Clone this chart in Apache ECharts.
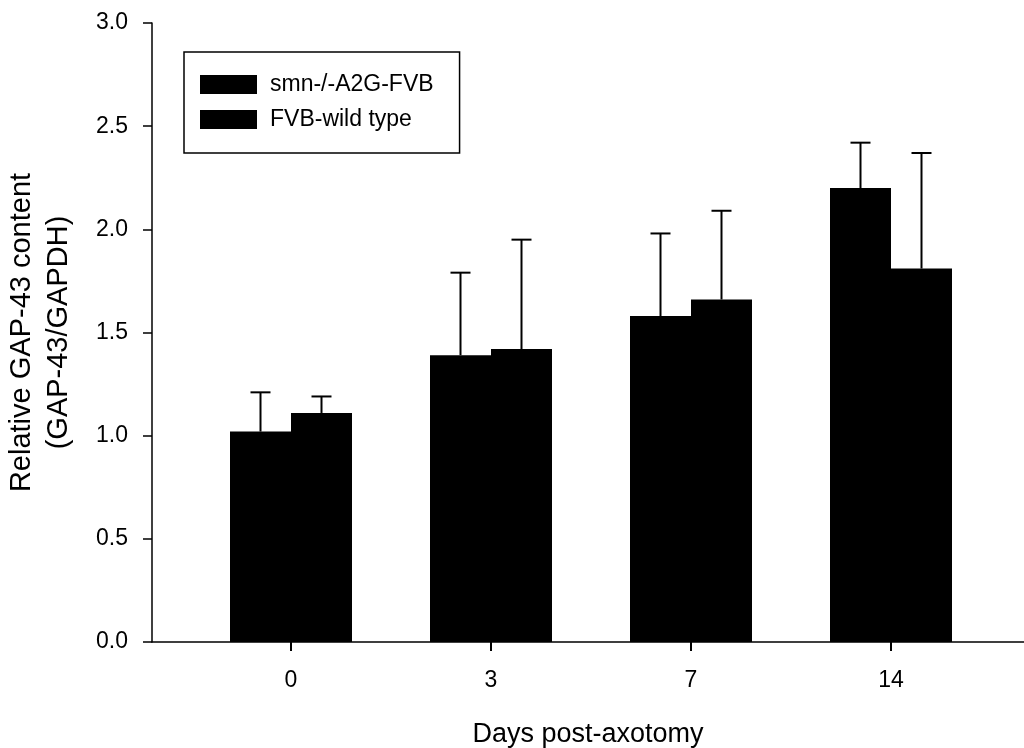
<!DOCTYPE html>
<html>
<head>
<meta charset="utf-8">
<title>Relative GAP-43 content</title>
<script src="https://cdn.jsdelivr.net/npm/echarts@6/dist/echarts.min.js"></script>
<style>
  html, body { margin: 0; padding: 0; background: #ffffff; }
  #chart { width: 1024px; height: 748px; }
</style>
</head>
<body>
<div id="chart"></div>
<script>
// Days after axotomy (category labels)
const days = ['0', '3', '7', '14'];
const seriesNames = ['smn-/-A2G-FVB', 'FVB-wild type'];

// Mean relative GAP-43 content (GAP-43/GAPDH)
const smnMean = [1.02, 1.39, 1.58, 2.20];
const wtMean = [1.11, 1.42, 1.66, 1.81];

// Top of the error bar (mean + error)
const smnUpper = [1.21, 1.79, 1.98, 2.42];
const wtUpper = [1.19, 1.95, 2.09, 2.37];

// Y axis ticks
const yTicks = [0, 0.5, 1.0, 1.5, 2.0, 2.5, 3.0];

const FONT = '"Liberation Sans", Arial, sans-serif';
const BAR_W = 61;
const CAP_W = 20;

const chart = echarts.init(document.getElementById('chart'), null, { renderer: 'canvas' });

function barData(values) {
  return values.map((v, i) => [i, v]);
}
function errData(means, uppers) {
  return means.map((m, i) => [i, m, uppers[i]]);
}

// Draws the upper half of an error bar above one bar of the group.
function errorRenderer(shift) {
  return function (params, api) {
    const idx = api.value(0);
    const top = api.coord([idx, api.value(2)]);
    const base = api.coord([idx, api.value(1)]);
    const x = top[0] + shift;
    const style = { stroke: '#000', lineWidth: 2, fill: null };
    return {
      type: 'group',
      children: [
        { type: 'line', shape: { x1: x, y1: base[1], x2: x, y2: top[1] }, style },
        { type: 'line', shape: { x1: x - CAP_W / 2, y1: top[1], x2: x + CAP_W / 2, y2: top[1] }, style }
      ]
    };
  };
}

const option = {
  animation: false,
  backgroundColor: '#ffffff',
  textStyle: { fontFamily: FONT, color: '#000' },
  grid: { left: 152, right: 0, top: 23, bottom: 106, containLabel: false, outerBoundsMode: 'none' },
  legend: {
    orient: 'vertical',
    left: 184,
    top: 52,
    itemWidth: 57,
    itemHeight: 19,
    itemGap: 12,
    padding: [21, 26, 22, 16],
    borderColor: '#000',
    borderWidth: 1.5,
    backgroundColor: '#fff',
    icon: 'rect',
    data: seriesNames,
    textStyle: { fontFamily: FONT, fontSize: 23, color: '#000', padding: [0, 0, 0, 8] }
  },
  xAxis: {
    type: 'value',
    min: -0.695,
    max: 3.665,
    name: 'Days post-axotomy',
    nameLocation: 'middle',
    nameGap: 79,
    nameTextStyle: { fontFamily: FONT, fontSize: 27, color: '#000' },
    splitLine: { show: false },
    axisLine: { show: true, onZero: false, lineStyle: { color: '#000', width: 1.5 } },
    axisTick: {
      show: true, length: 9, inside: false,
      customValues: days.map((d, i) => i),
      lineStyle: { color: '#000', width: 2 }
    },
    axisLabel: {
      show: true,
      customValues: days.map((d, i) => i),
      formatter: v => days[Math.round(v)],
      margin: 27,
      fontFamily: FONT, fontSize: 23, color: '#000'
    }
  },
  yAxis: {
    type: 'value',
    min: 0,
    max: 3,
    interval: 0.5,
    name: 'Relative GAP-43 content\n(GAP-43/GAPDH)',
    nameLocation: 'middle',
    nameRotate: 90,
    nameGap: 75,
    nameTextStyle: { fontFamily: FONT, fontSize: 29, color: '#000', lineHeight: 37, align: 'center' },
    splitLine: { show: false },
    axisLine: { show: true, onZero: false, lineStyle: { color: '#000', width: 1.5 } },
    axisTick: { show: true, length: 9, lineStyle: { color: '#000', width: 1.5 } },
    axisLabel: {
      margin: 24,
      fontFamily: FONT, fontSize: 23, color: '#000',
      customValues: yTicks,
      formatter: v => v.toFixed(1)
    }
  },
  series: [
    {
      name: seriesNames[0],
      type: 'bar',
      barWidth: BAR_W,
      barGap: '0%',
      itemStyle: { color: '#000' },
      data: barData(smnMean),
      z: 2
    },
    {
      name: seriesNames[1],
      type: 'bar',
      barWidth: BAR_W,
      barGap: '0%',
      itemStyle: { color: '#000' },
      data: barData(wtMean),
      z: 2
    },
    {
      name: 'smn-err',
      type: 'custom',
      renderItem: errorRenderer(-BAR_W / 2),
      encode: { x: 0, y: 2 },
      data: errData(smnMean, smnUpper),
      z: 3
    },
    {
      name: 'wt-err',
      type: 'custom',
      renderItem: errorRenderer(BAR_W / 2),
      encode: { x: 0, y: 2 },
      data: errData(wtMean, wtUpper),
      z: 3
    }
  ]
};

chart.setOption(option);
</script>
</body>
</html>
